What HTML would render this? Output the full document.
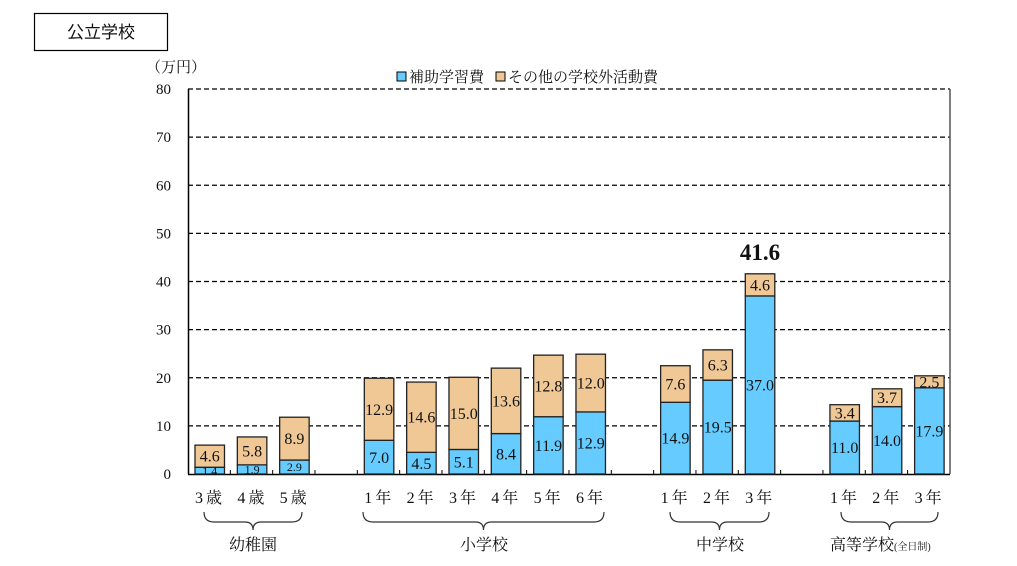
<!DOCTYPE html>
<html><head><meta charset="utf-8"><style>
body{margin:0;background:#fff;width:1017px;height:561px;overflow:hidden}
svg text{font-family:"Liberation Serif","Noto Serif CJK SC",serif;fill:#111}
</style></head><body>
<svg id="s" width="1017" height="561" xmlns="http://www.w3.org/2000/svg"></svg>
<script>
const s=document.getElementById('s');let h='';
h+='<rect x="34.5" y="13.5" width="133" height="37" fill="#fff" stroke="#000" stroke-width="1.2"/>';
h+='<text x="101" y="38" font-size="17" text-anchor="middle" style="font-family:\'Noto Sans CJK JP\',sans-serif">公立学校</text>';
h+='<text x="146" y="72" font-size="15">（万円）</text>';
const y0=474,k=4.8125;
for(let v=0;v<=80;v+=10){const y=y0-v*k;
 h+='<text x="171" y="'+(y+5)+'" font-size="15" text-anchor="end">'+v+'</text>';
 if(v>0)h+='<line x1="188" x2="950" y1="'+y+'" y2="'+y+'" stroke="#000" stroke-width="1.3" stroke-dasharray="5,3"/>';}
h+='<line x1="188.5" x2="188.5" y1="89" y2="474" stroke="#000" stroke-width="1.5"/>';
h+='<line x1="950" x2="950" y1="89" y2="474" stroke="#555" stroke-width="1.5"/>';
h+='<line x1="188" x2="950" y1="474.5" y2="474.5" stroke="#000" stroke-width="1.5"/>';
const w=42.33;for(let i=1;i<18;i++){const x=188+w*i;h+='<line x1="'+x+'" x2="'+x+'" y1="470" y2="474" stroke="#000"/>';}
const d=[[0,1.4,4.6],[1,1.9,5.8],[2,2.9,8.9],[4,7.0,12.9],[5,4.5,14.6],[6,5.1,15.0],[7,8.4,13.6],[8,11.9,12.8],[9,12.9,12.0],[11,14.9,7.6],[12,19.5,6.3],[13,37.0,4.6],[15,11.0,3.4],[16,14.0,3.7],[17,17.9,2.5]];
const lab=['3歳','4歳','5歳','','1年','2年','3年','4年','5年','6年','','1年','2年','3年','','1年','2年','3年'];
d.forEach(([i,b,o])=>{const x=188+w*i+7,bw=29.5;const yb=y0-b*k,yo=yb-o*k;
 h+='<rect x="'+x+'" y="'+yb+'" width="'+bw+'" height="'+(b*k)+'" fill="#66ccff" stroke="#222" stroke-width="1.3"/>';
 h+='<rect x="'+x+'" y="'+yo+'" width="'+bw+'" height="'+(o*k)+'" fill="#f0c896" stroke="#222" stroke-width="1.3"/>';
 const cx=x+bw/2;const bs=b<3?12:16;
 h+='<text x="'+cx+'" y="'+(yb+b*k/2+bs*0.35)+'" font-size="'+bs+'" text-anchor="middle">'+b.toFixed(1)+'</text>';
 h+='<text x="'+cx+'" y="'+(yo+o*k/2+5.5)+'" font-size="16" text-anchor="middle">'+o.toFixed(1)+'</text>';});
lab.forEach((t,i)=>{if(t)h+='<text x="'+(188+w*i+22)+'" y="503" font-size="16" text-anchor="middle" letter-spacing="3">'+t+'</text>';});
function br(x1,x2,y){const m=(x1+x2)/2;return '<path d="M'+x1+' '+y+' q0 10 10 10 L'+(m-8)+' '+(y+10)+' q8 0 8 8 q0 -8 8 -8 L'+(x2-10)+' '+(y+10)+' q10 0 10 -10" fill="none" stroke="#333" stroke-width="1.2"/>';}
h+=br(204,302,512)+br(363,604,512)+br(670,769,512)+br(841,938,512);
h+='<text x="253" y="550" font-size="16" text-anchor="middle">幼稚園</text>';
h+='<text x="484" y="550" font-size="16" text-anchor="middle">小学校</text>';
h+='<text x="720" y="550" font-size="16" text-anchor="middle">中学校</text>';
h+='<text x="830" y="550" font-size="16">高等学校<tspan font-size="10">(全日制)</tspan></text>';
h+='<text x="760" y="260" font-size="23" font-weight="bold" text-anchor="middle">41.6</text>';
h+='<rect x="397" y="72" width="9" height="9" fill="#66ccff" stroke="#000"/><text x="409" y="82" font-size="15">補助学習費</text>';
h+='<rect x="496" y="72" width="9" height="9" fill="#f0c896" stroke="#000"/><text x="508" y="82" font-size="15">その他の学校外活動費</text>';
s.innerHTML=h;
</script>
</body></html>
